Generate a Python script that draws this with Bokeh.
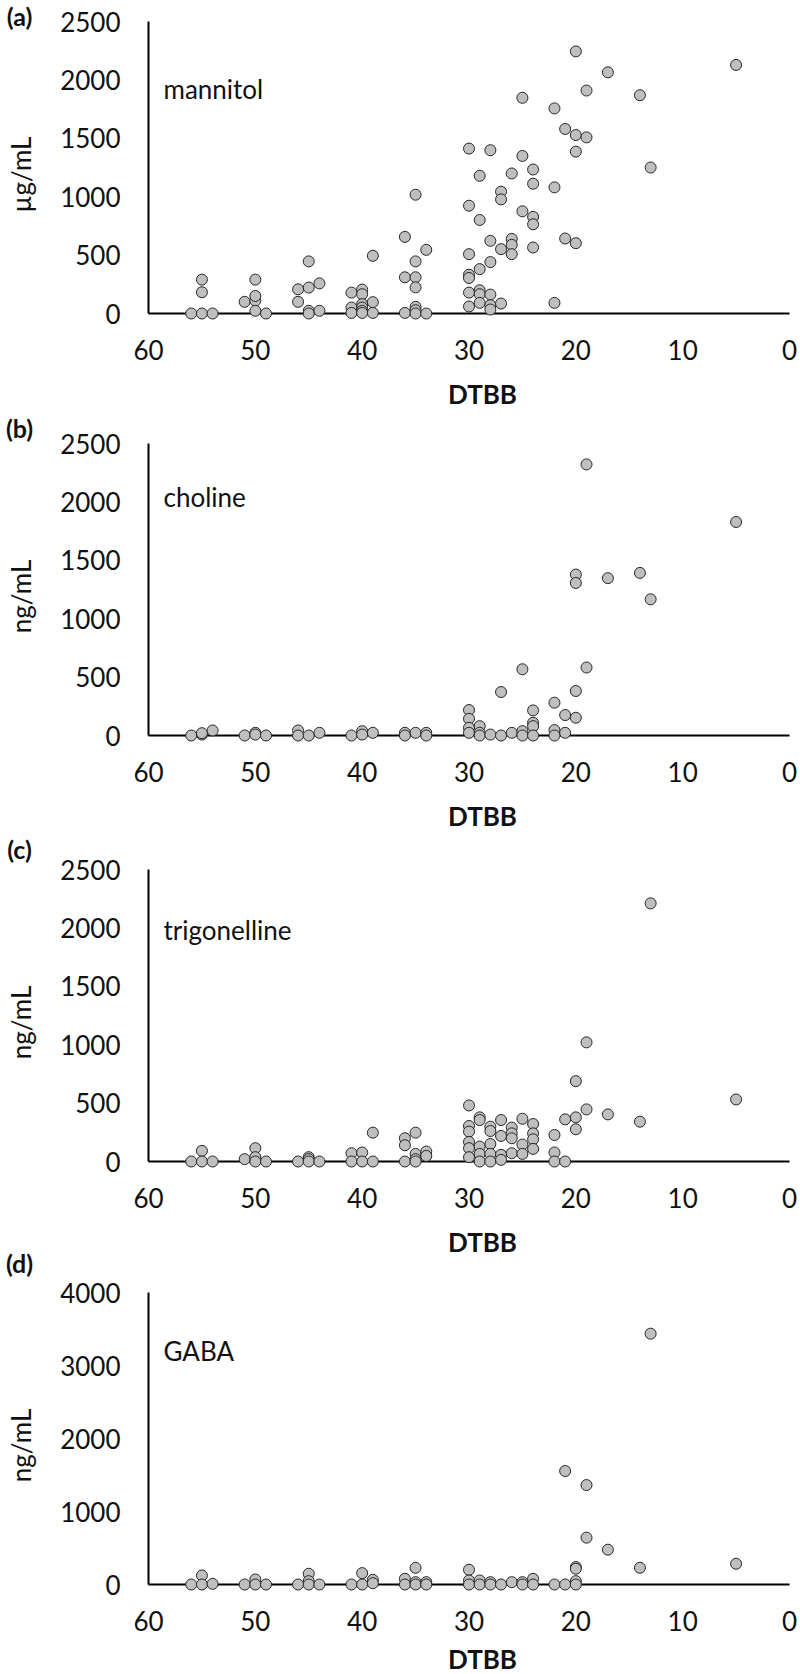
import math
from bokeh.plotting import figure
from bokeh.models import Range1d, LinearAxis, FixedTicker, Label
from bokeh.embed import file_html
from bokeh.resources import INLINE

# ---------------- data ----------------
x_ticks = [0, 10, 20, 30, 40, 50, 60]

x_mannitol = [56, 55, 55, 55, 54, 51, 50, 50, 50, 50, 49, 46, 46, 45, 45, 45, 45, 44, 44,
              41, 41, 41, 40, 40, 40, 40, 40, 40, 39, 39, 39, 36, 36, 36, 35, 35, 35, 35,
              35, 35, 35, 34, 34, 30, 30, 30, 30, 30, 30, 30, 29, 29, 29, 29, 29, 29, 28,
              28, 28, 28, 28, 28, 27, 27, 27, 27, 26, 26, 26, 26, 25, 25, 25, 24, 24, 24,
              24, 24, 22, 22, 22, 21, 21, 20, 20, 20, 20, 19, 19, 17, 14, 13, 5]
y_mannitol = [0, 0, 182, 290, 0, 100, 110, 150, 290, 23, 0, 207, 100, 222, 446, 23, 0, 258, 23,
              179, 51, 5, 205, 165, 80, 51, 23, 5, 494, 97, 5, 656, 310, 5, 1017, 446, 310, 224,
              57, 28, 0, 545, 0, 1412, 923, 508, 332, 304, 179, 60, 1179, 801, 380, 199, 165, 91, 1398,
              622, 440, 162, 71, 34, 1043, 977, 551, 85, 1199, 639, 588, 508, 1847, 1349, 875, 1233, 1111, 827,
              764, 565, 1756, 1080, 91, 1580, 642, 2244, 1528, 1386, 602, 1909, 1508, 2065, 1869, 1250, 2128]

x_choline = [56, 55, 55, 54, 51, 50, 50, 49, 46, 46, 45, 44, 41, 40, 40, 39, 36, 36, 35, 34,
             34, 30, 30, 30, 30, 29, 29, 29, 28, 27, 27, 26, 25, 25, 25, 24, 24, 24, 24, 22,
             22, 22, 21, 21, 20, 20, 20, 20, 19, 19, 17, 14, 13, 5]
y_choline = [0, 8, 20, 43, 0, 23, 8, 0, 43, 0, 0, 23, 0, 37, 8, 23, 23, 0, 23, 23,
             0, 218, 143, 66, 23, 80, 23, 0, 8, 372, 0, 23, 567, 37, 0, 215, 109, 80, 0, 281,
             46, 0, 175, 23, 1378, 1306, 381, 152, 2321, 582, 1347, 1392, 1166, 1828]

x_trigonelline = [56, 55, 55, 54, 51, 50, 50, 50, 49, 46, 45, 45, 45, 44, 41, 41, 40, 40, 39, 39,
                  36, 36, 36, 35, 35, 35, 35, 34, 34, 30, 30, 30, 30, 30, 30, 29, 29, 29, 29, 29,
                  28, 28, 28, 28, 28, 27, 27, 27, 27, 26, 26, 26, 26, 25, 25, 25, 24, 24, 24, 24,
                  22, 22, 22, 21, 21, 20, 20, 20, 19, 19, 17, 14, 13, 5]
y_trigonelline = [0, 91, 0, 0, 20, 114, 37, 0, 0, 0, 37, 20, 0, 0, 71, 0, 77, 0, 247, 0,
                  199, 139, 0, 247, 65, 20, 0, 85, 48, 480, 304, 256, 168, 114, 37, 378, 355, 128, 65, 0,
                  298, 261, 150, 65, 0, 355, 219, 57, 14, 290, 241, 199, 71, 366, 145, 65, 321, 241, 190, 108,
                  227, 77, 0, 361, 0, 688, 378, 276, 1020, 446, 403, 341, 2210, 531]

x_gaba = [56, 55, 55, 54, 51, 50, 50, 49, 46, 45, 45, 45, 44, 41, 40, 40, 39, 39, 36, 36,
          35, 35, 35, 34, 34, 30, 30, 30, 29, 29, 28, 28, 27, 26, 25, 25, 24, 24, 22, 21,
          21, 20, 20, 20, 20, 19, 19, 17, 14, 13, 5]
y_gaba = [0, 124, 0, 9, 0, 69, 0, 0, 0, 147, 46, 0, 0, 0, 156, 0, 64, 18, 78, 0,
          229, 32, 0, 32, 0, 202, 55, 0, 55, 0, 32, 0, 0, 32, 32, 0, 78, 0, 0, 0,
          1555, 239, 216, 46, 0, 1362, 642, 477, 229, 3436, 284]

y_ticks_2500 = [0, 500, 1000, 1500, 2000, 2500]
y_ticks_4000 = [0, 1000, 2000, 3000, 4000]

panel_letters = ["(a)", "(b)", "(c)", "(d)"]
compounds = ["mannitol", "choline", "trigonelline", "GABA"]
units = ["µg/mL", "ng/mL", "ng/mL", "ng/mL"]
x_title = "DTBB"

# ---------------- layout (page pixels) ----------------
W, H = 800, 1674
OX, OY = 0, 0
FONT = "Lato"
FS = "26px"
TXT = "#111111"

X60_PX, X0_PX = 148, 789
px_per_x = (X0_PX - X60_PX) / 60.0


def xd(page_x):
    return 60 - (page_x - X60_PX) / px_per_x


p = figure(width=W, height=H, output_backend="svg", toolbar_location=None,
           x_range=Range1d(xd(OX), xd(OX + W)), y_range=Range1d(0, 1),
           x_axis_type=None, y_axis_type=None, min_border=0,
           outline_line_color=None, background_fill_color="white",
           border_fill_color="white")

AXIS_H = 292
panels = [
    dict(name="a", zero=313, ymax=2500, ticks=y_ticks_2500, xs=x_mannitol, ys=y_mannitol,
         letter_y=15, cmp_base=88, dtbb=393),
    dict(name="b", zero=735, ymax=2500, ticks=y_ticks_2500, xs=x_choline, ys=y_choline,
         letter_y=427, cmp_base=496, dtbb=815),
    dict(name="c", zero=1161, ymax=2500, ticks=y_ticks_2500, xs=x_trigonelline, ys=y_trigonelline,
         letter_y=848, cmp_base=929, dtbb=1241),
    dict(name="d", zero=1584, ymax=4000, ticks=y_ticks_4000, xs=x_gaba, ys=y_gaba,
         letter_y=1262, cmp_base=1350, dtbb=1658),
]

for i, pn in enumerate(panels):
    s = AXIS_H / pn["ymax"]
    zero = pn["zero"]
    name = pn["name"]
    p.extra_y_ranges[name] = Range1d(-(OY + H - zero) / s, (zero - OY) / s)

    def yd(page_y, zero=zero, s=s):
        return (zero - page_y) / s

    common = dict(axis_line_width=2, axis_line_color="black",
                  major_tick_in=0, major_tick_out=0, minor_tick_in=0, minor_tick_out=0,
                  major_label_text_font=FONT, major_label_text_font_size=FS,
                  major_label_text_color=TXT)
    yax = LinearAxis(y_range_name=name, fixed_location=60, bounds=(0, pn["ymax"]),
                     ticker=FixedTicker(ticks=pn["ticks"]), major_label_standoff=28, **common)
    p.add_layout(yax, "left")
    xax = LinearAxis(y_range_name=name, fixed_location=0, bounds=(0, 60),
                     ticker=FixedTicker(ticks=x_ticks), major_label_standoff=26, **common)
    p.add_layout(xax, "below")

    p.scatter(pn["xs"], pn["ys"], y_range_name=name, size=11, marker="circle",
              fill_color="#bfbfbf", line_color="#262626", line_width=1, level="overlay")

    p.add_layout(Label(x=xd(19), y=yd(pn["letter_y"]), y_range_name=name,
                       text=panel_letters[i], text_font=FONT, text_font_size="25px",
                       text_font_style="bold", text_color=TXT,
                       text_align="center", text_baseline="middle"))
    p.add_layout(Label(x=xd(163), y=yd(pn["cmp_base"]), y_range_name=name,
                       text=compounds[i], text_font=FONT, text_font_size=FS,
                       text_color=TXT, text_align="left", text_baseline="alphabetic"))
    p.add_layout(Label(x=xd(20), y=yd(zero - AXIS_H / 2 + 7), y_range_name=name,
                       text=units[i], text_font=FONT, text_font_size=FS, angle=math.pi / 2,
                       text_color=TXT, text_align="center", text_baseline="middle"))
    p.add_layout(Label(x=xd(482), y=yd(pn["dtbb"]), y_range_name=name,
                       text=x_title, text_font=FONT, text_font_size=FS,
                       text_font_style="bold", text_color=TXT,
                       text_align="center", text_baseline="middle"))

open("out.html", "w").write(file_html(p, INLINE))
